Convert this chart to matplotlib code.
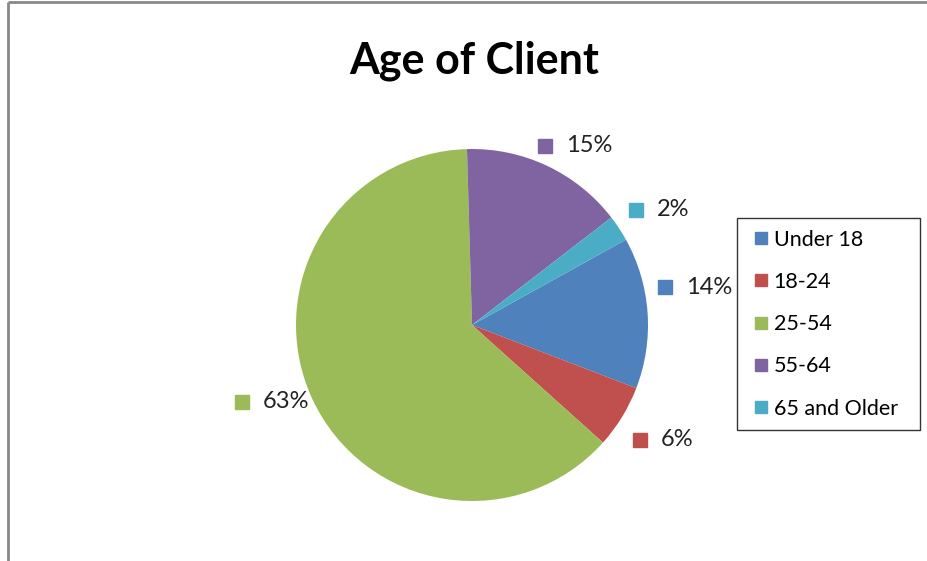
import numpy as np
import matplotlib
matplotlib.use("Agg")
import matplotlib.pyplot as plt
from matplotlib.lines import Line2D

# Data
categories = ["Under 18", "18-24", "25-54", "55-64", "65 and Older"]
shares = [13.9, 5.8, 62.9, 15.0, 2.4]
colors = ["#4F81BD", "#C0504D", "#9BBB59", "#8064A2", "#4BACC6"]

# label placement per slice: distance (pie radius = 1) and angle shift from mid
label_dist = [1.235, 1.257, 1.265, 1.149, 1.238]
label_shift = [6.0, 0.2, -4.7, -2.3, -1.4]

plt.rcParams["font.family"] = ["Lato", "DejaVu Sans"]

W, H = 928, 561
fig = plt.figure(figsize=(W / 100, H / 100), dpi=100)
fig.set_facecolor("white")

# pie centre and radius in pixels
cx, cy, r = 472, 325, 176
ax = fig.add_axes([(cx - r) / W, (H - cy - r) / H, 2 * r / W, 2 * r / H])
wedges, _ = ax.pie(shares, colors=colors, startangle=29, counterclock=False,
                   radius=1, wedgeprops={"linewidth": 0})
ax.set_xlim(-1, 1)
ax.set_ylim(-1, 1)
ax.axis("off")

px = 1.0 / r  # one pixel in data units
for w, val, d, s in zip(wedges, shares, label_dist, label_shift):
    mid = np.deg2rad((w.theta1 + w.theta2) / 2 + s)
    x, y = d * np.cos(mid), d * np.sin(mid)
    ax.plot(x - 21 * px, y, marker="s", markersize=9.5, color=w.get_facecolor(),
            clip_on=False, linestyle="none")
    ax.text(x, y, f"{val:.0f}%", ha="left", va="center",
            fontsize=17, color="#222222", clip_on=False)

fig.text(474 / W, 1 - 61 / H, "Age of Client", ha="center", va="center",
         fontsize=31, fontweight="bold", color="black")

handles = [Line2D([], [], marker="s", linestyle="none", markersize=9,
                  color=c) for c in colors]
leg = fig.legend(handles, categories, loc="upper left", mode="expand",
                 bbox_to_anchor=(737 / W, 1 - 430 / H, 183 / W, 212 / H),
                 frameon=True, fancybox=False, edgecolor="black", fontsize=15.5,
                 labelspacing=1.03, handlelength=1.1, handletextpad=0.05,
                 borderpad=0.55, borderaxespad=0)
leg.get_frame().set_linewidth(1.0)

# grey chart-area border, visible on left and top
fig.add_artist(Line2D([8 / W, 8 / W], [0, 1 - 2 / H], transform=fig.transFigure,
                      color="#888888", linewidth=2, solid_capstyle="butt"))
fig.add_artist(Line2D([8 / W, 1.01], [1 - 2 / H, 1 - 2 / H], transform=fig.transFigure,
                      color="#888888", linewidth=2, solid_capstyle="butt"))

fig.savefig("out.png", dpi=100, facecolor="white")
